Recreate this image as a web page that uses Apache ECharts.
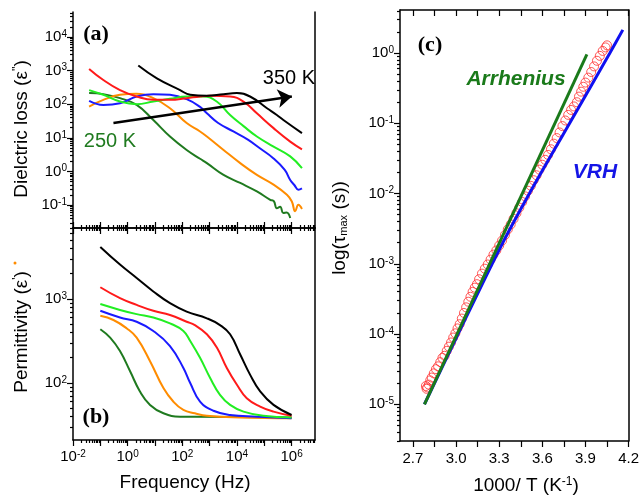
<!DOCTYPE html>
<html>
<head>
<meta charset="utf-8">
<script src="https://cdn.jsdelivr.net/npm/echarts@6/dist/echarts.min.js"></script>
<style>
html, body { margin: 0; padding: 0; background: #fff; }
#chart { width: 642px; height: 496px; }
</style>
</head>
<body>
<div id="chart"></div>
<script>
// values, stored as [log10(freq), log10(value)]
// panel (a) dielectric loss
var lossK250 = [[-1.41,2.33],[-0.89,2.30],[-0.28,2.18],[0.33,1.98],[0.94,1.53],[1.55,1.04],[2.16,0.64],[2.65,0.38],[2.90,0.25],[3.51,-0.10],[4.12,-0.34],[4.73,-0.59],[5.22,-0.84],[5.35,-0.88],[5.46,-1.09],[5.58,-1.05],[5.70,-1.23],[5.82,-1.22],[5.95,-1.38]];
var lossOrange = [[-1.41,1.93],[-0.89,2.13],[-0.28,2.28],[0.33,2.31],[0.94,2.18],[1.55,1.88],[2.16,1.44],[2.65,1.19],[2.90,1.04],[3.51,0.64],[4.12,0.25],[4.73,-0.10],[5.34,-0.39],[5.83,-0.69],[6.01,-0.89],[6.13,-1.18],[6.25,-0.99],[6.38,-1.11]];
var lossBlue = [[-1.41,2.10],[-0.89,1.98],[-0.28,2.03],[0.33,2.23],[0.94,2.30],[1.55,2.28],[2.16,2.15],[2.65,1.92],[2.90,1.73],[3.30,1.45],[3.87,1.19],[4.40,0.95],[4.84,0.69],[5.34,0.39],[5.75,0.05],[5.95,-0.25],[6.10,-0.40],[6.25,-0.54],[6.38,-0.50]];
var lossGreen = [[-1.41,2.42],[-0.89,2.28],[-0.28,2.08],[0.33,2.00],[0.94,2.08],[1.55,2.16],[2.16,2.23],[2.77,2.23],[3.26,2.08],[3.75,1.68],[4.24,1.35],[4.73,1.04],[5.34,0.74],[5.95,0.45],[6.38,0.10]];
var lossRed = [[-1.41,3.05],[-0.89,2.72],[-0.28,2.42],[0.33,2.23],[0.94,2.13],[1.55,2.13],[2.16,2.18],[2.65,2.23],[3.02,2.25],[3.75,2.23],[4.24,2.08],[4.73,1.73],[5.34,1.29],[5.95,0.89],[6.38,0.66]];
var lossK350 = [[0.39,3.15],[1.07,2.77],[1.92,2.42],[2.29,2.28],[2.90,2.25],[3.51,2.30],[4.00,2.33],[4.48,2.23],[5.10,1.88],[5.46,1.68],[5.70,1.53],[6.38,1.14]];
var arrowFrom = [-0.52, 1.44];
var arrowTo = [6.01, 2.23];

// panel (b) permittivity
var permK250 = [[-1.0,2.64],[-0.64,2.54],[-0.28,2.38],[0.09,2.14],[0.45,1.90],[0.82,1.74],[1.31,1.64],[1.92,1.60],[2.46,1.60],[6.0,1.59]];
var permOrange = [[-1.0,2.80],[-0.52,2.75],[-0.03,2.65],[0.33,2.54],[0.82,2.26],[1.31,1.94],[1.67,1.78],[2.04,1.68],[2.46,1.64],[2.90,1.61],[4.12,1.59],[6.0,1.58]];
var permBlue = [[-1.0,2.86],[-0.28,2.78],[0.33,2.73],[0.94,2.62],[1.55,2.44],[2.04,2.18],[2.29,2.00],[2.65,1.78],[3.14,1.67],[3.75,1.62],[4.73,1.60],[6.0,1.58]];
var permGreen = [[-1.0,2.94],[-0.28,2.87],[0.33,2.82],[0.94,2.78],[1.55,2.71],[2.04,2.62],[2.29,2.50],[2.65,2.30],[3.02,2.06],[3.38,1.86],[3.75,1.74],[4.24,1.66],[4.97,1.61],[6.0,1.59]];
var permRed = [[-1.0,3.14],[-0.28,3.01],[0.33,2.93],[0.94,2.86],[1.55,2.81],[2.16,2.73],[2.46,2.69],[2.90,2.58],[3.27,2.42],[3.63,2.18],[4.0,1.98],[4.36,1.82],[4.85,1.72],[5.34,1.66],[6.0,1.61]];
var permK350 = [[-1.0,3.62],[-0.28,3.41],[0.33,3.25],[0.94,3.09],[1.55,2.95],[2.16,2.85],[2.90,2.77],[3.38,2.69],[3.75,2.58],[4.12,2.34],[4.48,2.10],[4.85,1.90],[5.34,1.74],[6.0,1.62]];

// panel (c) relaxation time: [1000/T, log10(tau)]
var tauMeasured = [[2.79,-4.74],[2.795,-4.78],[2.80,-4.76],[2.81,-4.72],[2.82,-4.66],[2.83,-4.62],[2.845,-4.56],[2.86,-4.50],[2.875,-4.46],[2.89,-4.40],[2.905,-4.34],[2.92,-4.31],[2.935,-4.24],[2.95,-4.18],[2.965,-4.12],[2.98,-4.05],[2.995,-3.99],[3.01,-3.92],[3.025,-3.86],[3.04,-3.78],[3.055,-3.70],[3.07,-3.62],[3.085,-3.54],[3.10,-3.47],[3.115,-3.40],[3.13,-3.34],[3.145,-3.29],[3.16,-3.22],[3.18,-3.14],[3.20,-3.07],[3.22,-3.01],[3.24,-2.94],[3.26,-2.87],[3.28,-2.81],[3.30,-2.74],[3.32,-2.67],[3.34,-2.59],[3.36,-2.51],[3.38,-2.44],[3.40,-2.36],[3.42,-2.28],[3.44,-2.20],[3.46,-2.12],[3.48,-2.04],[3.50,-1.96],[3.52,-1.89],[3.54,-1.81],[3.56,-1.74],[3.58,-1.66],[3.60,-1.59],[3.62,-1.52],[3.64,-1.45],[3.66,-1.37],[3.68,-1.29],[3.70,-1.21],[3.72,-1.13],[3.74,-1.04],[3.76,-0.96],[3.78,-0.88],[3.80,-0.81],[3.82,-0.76],[3.84,-0.70],[3.855,-0.62],[3.87,-0.55],[3.885,-0.48],[3.90,-0.42],[3.92,-0.35],[3.94,-0.27],[3.96,-0.19],[3.98,-0.11],[4.00,-0.04],[4.02,0.03],[4.04,0.08],[4.05,0.11]];
var tauArrhenius = [[2.78,-5.0],[3.91,-0.02]];
var tauVRH = [[2.78,-5.0],[3.0,-4.06],[3.3,-2.8],[3.51,-2.0],[3.79,-1.0],[4.07,0.0],[4.16,0.33]];

var freqLabels = [0.01, 1, 100, 1e4, 1e6];
var lossLabels = [0.1, 1, 10, 100, 1000, 1e4];
var permLabels = [100, 1000];
var tauLabels = [1e-5, 1e-4, 1e-3, 1e-2, 1e-1, 1];
var invTLabels = [2.7, 3.0, 3.3, 3.6, 3.9, 4.2];
var invTTicks = [2.7, 2.85, 3.0, 3.15, 3.3, 3.45, 3.6, 3.75, 3.9, 4.05, 4.2];

var SANS = 'Liberation Sans, Arial, Helvetica, sans-serif';
var SERIF = 'Liberation Serif, Times New Roman, serif';

function logPairs(a) { return a.map(function (p) { return [Math.pow(10, p[0]), Math.pow(10, p[1])]; }); }
function tauPairs(a) { return a.map(function (p) { return [p[0], Math.pow(10, p[1])]; }); }

function decades(lo, hi) {
  var out = [];
  for (var k = Math.ceil(Math.log10(lo)); k <= Math.floor(Math.log10(hi)); k++) out.push(Math.pow(10, k));
  return out;
}
function minors(lo, hi) {
  var out = [];
  for (var k = Math.floor(Math.log10(lo)); k <= Math.ceil(Math.log10(hi)); k++) {
    for (var m = 2; m <= 9; m++) {
      var v = m * Math.pow(10, k);
      if (v >= lo && v <= hi) out.push(v);
    }
  }
  return out;
}
function powLabel(v) { return '10{s|' + Math.round(Math.log10(v)) + '}'; }
var supRich = { s: { fontSize: 10, fontFamily: SANS, color: '#000', verticalAlign: 'top', padding: [0, 0, 6, 0] } };

var FMIN = 0.01, FMAX = 7.2e6;
var LMIN = 0.021, LMAX = 55000;
var PMIN = 21, PMAX = 7000;
var TMIN = 3e-6, TMAX = 4.1;

var lineSt = { color: '#000', width: 1.5 };
function ax(o) {
  var base = {
    splitLine: { show: false },
    axisLine: { show: true, onZero: false, lineStyle: lineSt },
    axisTick: { show: false },
    axisLabel: { show: false },
    z: 10
  };
  for (var k in o) base[k] = o[k];
  return base;
}
function ticks(vals, len, inside) {
  return { show: true, inside: !!inside, length: len, customValues: vals, lineStyle: { color: '#000', width: 1.2 } };
}
function labels(vals, fmt, margin) {
  return { show: true, customValues: vals, formatter: fmt, rich: supRich, fontSize: 15, fontFamily: SANS, color: '#000', margin: margin };
}

var xAxes = [
  ax({ type: 'log', gridIndex: 0, position: 'bottom', min: FMIN, max: FMAX, axisTick: ticks(decades(FMIN, FMAX), 6) }),
  ax({ type: 'log', gridIndex: 0, position: 'bottom', min: FMIN, max: FMAX, axisLine: { show: false }, axisTick: ticks(minors(FMIN, FMAX), 3) }),
  ax({ type: 'log', gridIndex: 1, position: 'bottom', min: FMIN, max: FMAX, axisTick: ticks(decades(FMIN, FMAX), 6), axisLabel: labels(freqLabels, powLabel, 9) }),
  ax({ type: 'log', gridIndex: 1, position: 'bottom', min: FMIN, max: FMAX, axisLine: { show: false }, axisTick: ticks(minors(FMIN, FMAX), 3) }),
  ax({ type: 'log', gridIndex: 1, position: 'top', min: FMIN, max: FMAX, axisTick: ticks(decades(FMIN, FMAX), 6) }),
  ax({ type: 'log', gridIndex: 1, position: 'top', min: FMIN, max: FMAX, axisLine: { show: false }, axisTick: ticks(minors(FMIN, FMAX), 3) }),
  ax({ type: 'value', gridIndex: 2, position: 'bottom', min: 2.61, max: 4.2, axisTick: ticks(invTTicks, 6), axisLabel: labels(invTLabels, function (v) { return v.toFixed(1); }, 10) }),
  ax({ type: 'value', gridIndex: 2, position: 'top', min: 2.61, max: 4.2, axisTick: ticks(invTTicks, 6, true) })
];

var yAxes = [
  ax({ type: 'log', gridIndex: 0, position: 'left', min: LMIN, max: LMAX, axisTick: ticks(decades(LMIN, LMAX), 6), axisLabel: labels(lossLabels, powLabel, 6) }),
  ax({ type: 'log', gridIndex: 0, position: 'left', min: LMIN, max: LMAX, axisLine: { show: false }, axisTick: ticks(minors(LMIN, LMAX), 3) }),
  ax({ type: 'log', gridIndex: 0, position: 'right', min: LMIN, max: LMAX }),
  ax({ type: 'log', gridIndex: 1, position: 'left', min: PMIN, max: PMAX, axisTick: ticks(decades(PMIN, PMAX), 6), axisLabel: labels(permLabels, powLabel, 6) }),
  ax({ type: 'log', gridIndex: 1, position: 'left', min: PMIN, max: PMAX, axisLine: { show: false }, axisTick: ticks(minors(PMIN, PMAX), 3) }),
  ax({ type: 'log', gridIndex: 1, position: 'right', min: PMIN, max: PMAX }),
  ax({ type: 'log', gridIndex: 2, position: 'left', min: TMIN, max: TMAX, axisTick: ticks(decades(TMIN, TMAX), 6), axisLabel: labels(tauLabels, powLabel, 6) }),
  ax({ type: 'log', gridIndex: 2, position: 'left', min: TMIN, max: TMAX, axisLine: { show: false }, axisTick: ticks(minors(TMIN, TMAX), 3) }),
  ax({ type: 'log', gridIndex: 2, position: 'right', min: TMIN, max: TMAX })
];

function curve(data, color, xi, yi, smooth) {
  return {
    type: 'line', xAxisIndex: xi, yAxisIndex: yi, data: logPairs(data),
    showSymbol: false, symbol: 'none', smooth: smooth, silent: true,
    lineStyle: { color: color, width: 2 }
  };
}

var C = { k250: '#1f7a1f', orange: '#ff8c00', blue: '#1a1aff', green: '#22ee22', red: '#ff1a1a', k350: '#000000' };

var series = [
  curve(lossK250, C.k250, 0, 0, 0.45),
  curve(lossOrange, C.orange, 0, 0, 0.45),
  curve(lossBlue, C.blue, 0, 0, 0.45),
  curve(lossGreen, C.green, 0, 0, 0.45),
  curve(lossRed, C.red, 0, 0, 0.45),
  curve(lossK350, C.k350, 0, 0, 0.45),
  curve(permK250, C.k250, 2, 3, 0.45),
  curve(permOrange, C.orange, 2, 3, 0.45),
  curve(permBlue, C.blue, 2, 3, 0.45),
  curve(permGreen, C.green, 2, 3, 0.45),
  curve(permRed, C.red, 2, 3, 0.45),
  curve(permK350, C.k350, 2, 3, 0.45),
  {
    type: 'scatter', xAxisIndex: 6, yAxisIndex: 6, data: tauPairs(tauMeasured), silent: true,
    symbol: 'circle', symbolSize: 9,
    itemStyle: { color: 'rgba(255,255,255,0)', borderColor: '#ff3030', borderWidth: 1 }
  },
  {
    type: 'line', xAxisIndex: 6, yAxisIndex: 6, data: tauPairs(tauVRH), smooth: 0.3, symbol: 'none', silent: true,
    lineStyle: { color: '#1010f0', width: 3 }
  },
  {
    type: 'line', xAxisIndex: 6, yAxisIndex: 6, data: tauPairs(tauArrhenius), symbol: 'none', silent: true,
    lineStyle: { color: '#1a7a1a', width: 3 }
  }
];

// temperature arrow in panel (a)
series[5].markLine = {
  silent: true, symbol: ['none', 'arrow'], symbolSize: 14,
  label: { show: false },
  lineStyle: { color: '#000', width: 2.5, type: 'solid' },
  data: [[
    { coord: [Math.pow(10, arrowFrom[0]), Math.pow(10, arrowFrom[1])] },
    { coord: [Math.pow(10, arrowTo[0]), Math.pow(10, arrowTo[1])] }
  ]]
};

function txt(x, y, text, font, color) {
  return {
    type: 'text', x: x, y: y, z: 100, silent: true,
    style: { text: text, font: font, fill: color || '#000', align: 'center', verticalAlign: 'middle' }
  };
}

var titleRich = {
  s: { fontSize: 12, fontFamily: SANS, fill: '#000', verticalAlign: 'top', padding: [0, 0, 8, 0] },
  sub: { fontSize: 11, fontFamily: SANS, fill: '#000', padding: [8, 0, 0, 0] }
};

var graphic = [
  txt(96, 34, '(a)', 'bold 22px ' + SERIF),
  txt(96, 417, '(b)', 'bold 22px ' + SERIF),
  txt(430, 45, '(c)', 'bold 22px ' + SERIF),
  txt(289, 78, '350 K', '20px ' + SANS),
  txt(110, 141, '250 K', '20px ' + SANS, '#1f7a1f'),
  txt(516, 79, 'Arrhenius', 'italic bold 21px ' + SANS, '#1a7a1a'),
  txt(595, 172, 'VRH', 'italic bold 21px ' + SANS, '#1515e6'),
  txt(185, 483, 'Frequency (Hz)', '19px ' + SANS),
  { type: 'text', x: 526, y: 486, z: 100, silent: true,
    style: { text: '1000/ T (K{s|-1})', font: '19px ' + SANS, fill: '#000', align: 'center', verticalAlign: 'middle', rich: titleRich } },
  { type: 'text', x: 22, y: 129, rotation: Math.PI / 2, z: 100, silent: true,
    style: { text: "Dielctric loss (ε{s|''})", font: '19px ' + SANS, fill: '#000', align: 'center', verticalAlign: 'middle', rich: titleRich } },
  { type: 'text', x: 22, y: 332, rotation: Math.PI / 2, z: 100, silent: true,
    style: { text: "Permittivity (ε{s|'})", font: '19px ' + SANS, fill: '#000', align: 'center', verticalAlign: 'middle', rich: titleRich } },
  { type: 'circle', z: 100, silent: true, shape: { cx: 15, cy: 263, r: 1.5 }, style: { fill: '#ff8c00' } },
  { type: 'text', x: 340, y: 228, rotation: Math.PI / 2, z: 100, silent: true,
    style: { text: 'log(τ{sub|max} (s))', font: '19px ' + SANS, fill: '#000', align: 'center', verticalAlign: 'middle', rich: titleRich } }
];

var chart = echarts.init(document.getElementById('chart'), null, { renderer: 'canvas' });
chart.setOption({
  animation: false,
  backgroundColor: '#fff',
  grid: [
    { left: 73, top: 12, width: 242, height: 216 },
    { left: 73, top: 228, width: 242, height: 212 },
    { left: 400, top: 10, width: 237.5, height: 431 }
  ],
  xAxis: xAxes,
  yAxis: yAxes,
  series: series,
  graphic: graphic
});
</script>
</body>
</html>
